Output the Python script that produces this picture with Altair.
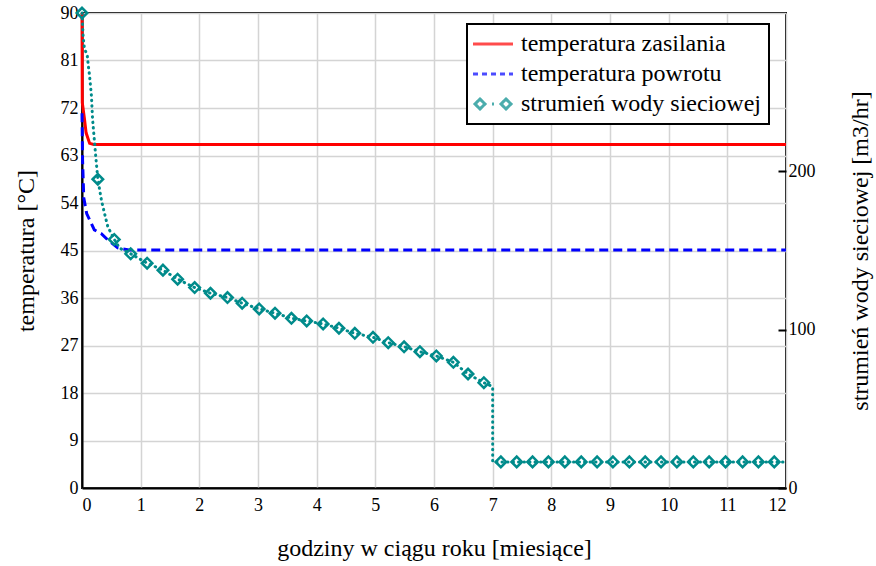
import altair as alt
import pandas as pd

# ---------------- data ----------------
month_ticks = list(range(13))
temp_ticks = [0, 9, 18, 27, 36, 45, 54, 63, 72, 81, 90]
flow_ticks = [0, 100, 200]

supply_month = [0.0, 0.005, 0.04, 0.07, 0.13, 0.2, 12.0]
supply_temp = [90, 73, 70.1, 67.3, 65.3, 65.1, 65.1]

return_month = [0.0, 0.01, 0.03, 0.08, 0.13, 0.21, 0.33, 0.44, 0.61, 0.8, 12.0]
return_temp = [71, 62, 55, 52, 50.8, 48.9, 48.2, 47.0, 45.5, 45.1, 45.1]

flow_curve_month = [0.0, 0.02, 0.04, 0.09, 0.11, 0.13, 0.16, 0.18, 0.21, 0.24,
                    0.27, 0.33, 0.38, 0.44, 0.55, 0.64]
flow_curve_value = [300, 285, 278, 273, 266, 260, 248, 233, 220, 207,
                    195, 182, 174, 165, 157, 151.5]

flow_marker_month = [0.0, 0.27, 0.55,
                     0.83, 1.11, 1.38, 1.63, 1.92, 2.19, 2.48, 2.73, 3.02, 3.29,
                     3.57, 3.83, 4.11, 4.38, 4.65, 4.96, 5.22, 5.49, 5.76, 6.04,
                     6.33, 6.58, 6.85,
                     7.14, 7.41, 7.68, 7.95, 8.23, 8.51, 8.78, 9.05, 9.33, 9.60,
                     9.87, 10.14, 10.42, 10.69, 10.97, 11.26, 11.53, 11.80]
flow_marker_value = [300, 195, 157,
                     147.9, 142.0, 137.6, 131.9, 126.6, 123.0, 120.3, 116.7, 113.1, 110.4,
                     107.2, 105.5, 103.6, 100.9, 97.7, 95.2, 91.8, 89.2, 86.1, 83.4,
                     79.4, 72.0, 66.5,
                     16.5, 16.5, 16.5, 16.5, 16.5, 16.5, 16.5, 16.5, 16.5, 16.5,
                     16.5, 16.5, 16.5, 16.5, 16.5, 16.5, 16.5, 16.5]

flow_drop_month = [7.0, 7.0]
flow_drop_value = [64.0, 16.5]
flow_end_month = [12.0]
flow_end_value = [16.5]

series_names = ["temperatura zasilania", "temperatura powrotu", "strumień wody sieciowej"]
series_colors = ["#ff0000", "#0000ff", "#008b8b"]

# ---------------- tables ----------------
supply_df = pd.DataFrame({"month": supply_month, "value": supply_temp})
return_df = pd.DataFrame({"month": return_month, "value": return_temp})

pts = set(zip(flow_curve_month, flow_curve_value))
pts |= set(zip(flow_marker_month, flow_marker_value))
pts |= set(zip(flow_drop_month, flow_drop_value))
pts |= set(zip(flow_end_month, flow_end_value))
pts = sorted(pts, key=lambda p: (p[0], -p[1]))
flow_line_df = pd.DataFrame({"month": [p[0] for p in pts],
                             "flow": [p[1] for p in pts],
                             "idx": list(range(len(pts)))})
flow_marker_df = pd.DataFrame({"month": flow_marker_month, "flow": flow_marker_value})
legend_df = pd.DataFrame({"series": series_names})

# ---------------- encodings ----------------
FONT = "Liberation Serif, Times New Roman, DejaVu Serif, serif"

X = alt.X("month:Q",
          scale=alt.Scale(domain=[0, 12], nice=False, zero=False),
          axis=alt.Axis(values=month_ticks, format="d", ticks=False, grid=True,
                        labelPadding=8, titlePadding=22,
                        title="godziny w ciągu roku [miesiące]"))

YL = alt.Y("value:Q",
           scale=alt.Scale(domain=[0, 90], nice=False),
           axis=alt.Axis(values=temp_ticks, ticks=False, grid=True, labelPadding=4,
                         title="temperatura [°C]", titleAngle=270, titleX=-56,
                         titleY=237.5, titleAlign="center", titleBaseline="middle"))

YR = alt.Y("flow:Q",
           scale=alt.Scale(domain=[0, 300], nice=False),
           axis=alt.Axis(orient="right", values=flow_ticks, offset=-8, tickSize=8,
                         domain=False, grid=False, labelPadding=2,
                         title="strumień wody sieciowej [m3/hr]", titleAngle=270,
                         titleX=82, titleY=237.5, titleAlign="center",
                         titleBaseline="middle"))

teal_shape = ("M-1.8,0L-1.3,-0.5L-0.8,0L-1.3,0.5Z "
              "M0.8,0L1.3,-0.5L1.8,0L1.3,0.5Z M-0.1,0L0.1,0")
series_shapes = ["M-2,0L2,0", "M-2,0L2,0", teal_shape]
series_dashes = [[1, 0], [5, 4], [1, 0]]

leg = alt.Legend(orient="none", legendX=385, legendY=11)

supply = alt.Chart(supply_df).mark_line(color="#ff0000", strokeWidth=3).encode(x=X, y=YL)
ret = alt.Chart(return_df).mark_line(color="#0000ff", strokeWidth=3,
                                     strokeDash=[9, 5]).encode(x=X, y=YL)
legend_layer = alt.Chart(legend_df).transform_filter("false").mark_point(
    filled=False, strokeWidth=3).encode(
    color=alt.Color("series:N", title=None,
                    scale=alt.Scale(domain=series_names, range=series_colors), legend=leg),
    shape=alt.Shape("series:N", title=None,
                    scale=alt.Scale(domain=series_names, range=series_shapes), legend=leg),
    strokeDash=alt.StrokeDash("series:N", title=None,
                              scale=alt.Scale(domain=series_names, range=series_dashes),
                              legend=leg),
)

flow_line = alt.Chart(flow_line_df).mark_line(
    color="#008b8b", strokeWidth=3, strokeDash=[0.5, 5], strokeCap="round").encode(
    x=X, y=YR, order="idx:Q")
flow_pts = alt.Chart(flow_marker_df).mark_point(
    shape="diamond", filled=False, size=110, strokeWidth=2.5, color="#008b8b",
    opacity=1).encode(x=X, y=YR)

left = alt.layer(supply, ret, legend_layer)
right = alt.layer(flow_line, flow_pts)

chart = alt.layer(left, right).resolve_scale(y="independent").properties(
    width=704, height=475,
    autosize=alt.AutoSizeParams(type="none"),
    padding={"left": 82, "top": 13, "right": 90, "bottom": 78},
    background="white",
).configure_view(stroke="black", strokeWidth=2).configure_axis(
    labelFont=FONT, labelFontSize=18, labelColor="black",
    titleFont=FONT, titleFontSize=24, titleFontWeight="normal", titleColor="black",
    gridColor="#d4d4d4", gridWidth=1.5, domainColor="black", domainWidth=2,
    tickColor="black", tickWidth=2,
).configure_legend(
    labelFont=FONT, labelFontSize=24, labelColor="black",
    symbolSize=400, symbolStrokeWidth=3, padding=8, rowPadding=6,
    symbolOffset=6, labelOffset=16, strokeColor="black", fillColor="white",
    strokeWidth=2, labelLimit=400,
)

chart.save("out.html", embed_options={"renderer": "svg", "actions": False})
